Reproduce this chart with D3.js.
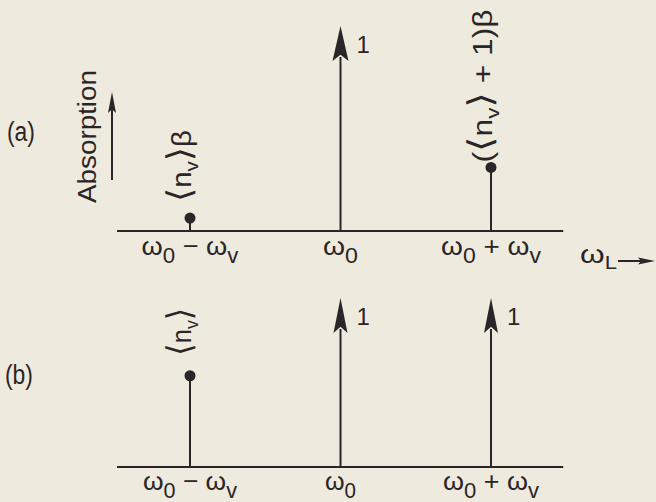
<!DOCTYPE html>
<html><head><meta charset="utf-8">
<script src="https://cdn.jsdelivr.net/npm/d3@7"></script>
<style>
  body { margin: 0; background: #efeade; }
  svg { display: block; }
  text { font-family: "Liberation Sans", Arial, "DejaVu Sans", sans-serif; fill: #2a2526; }
</style>
</head><body>
<svg id="chart" width="656" height="502"></svg>
<script>
// Laser frequency positions, in units of the vibrational frequency ω_v about ω_0
const offsets = [-1, 0, 1];
const tickLabels = ["ω_0 − ω_v", "ω_0", "ω_0 + ω_v"];

// (a) absorption line strengths
const strengthA = [0.063, 1, 0.31];
const kindA = ["dot", "arrow", "dot"];
const labelA = ["⟨n_v⟩β", "1", "(⟨n_v⟩ + 1)β"];

// (b) absorption line strengths
const strengthB = [0.54, 1, 1];
const kindB = ["dot", "arrow", "arrow"];
const labelB = ["⟨n_v⟩", "1", "1"];

const panelNames = ["(a)", "(b)"];
const axisLabel = "ω_L";
const yTitle = "Absorption";

const ink = "#2a2526";
const svg = d3.select("#chart");

const x = d3.scaleLinear().domain([-1, 1]).range([190, 491]);
const axisExtent = [-1.485, 1.48];

// Append a text with "_c" subscripts; optionally stretch it to a given length
function addText(parent, str, o) {
  const g = parent.append("g")
    .attr("transform", `translate(${o.x},${o.y}) rotate(${o.rotate || 0})`);
  const t = g.append("text")
    .attr("font-size", o.size)
    .attr("text-anchor", o.anchor || "start");
  const subSize = o.size * (o.subScale || 0.85);
  const shift = o.subShift || 8;
  const parts = str.split(/_(.)/);
  let pending = 0;
  parts.forEach((p, i) => {
    if (!p) return;
    if (i % 2 === 1) {
      t.append("tspan").attr("font-size", subSize).attr("dy", shift - pending).text(p);
      pending = shift;
    } else {
      // angle brackets drawn a little larger, as in typeset math
      p.split(/([⟨⟩])/).forEach(s => {
        if (!s) return;
        const ts = t.append("tspan").text(s);
        if (pending) { ts.attr("dy", -pending); pending = 0; }
        if (/[⟨⟩]/.test(s)) ts.attr("font-size", o.size * (o.bracketScale || 1))
          .attr("font-family", "DejaVu Sans");
      });
    }
  });
  if (o.fit) {
    const w = t.node().getComputedTextLength();
    t.attr("transform", `scale(${o.fit / w},${o.thick || 1})`);
  }
  return t;
}

function arrowHead(parent, cx, tipY, len, wid, dir) {
  const notch = len * 0.18;
  let pts;
  if (dir === "up") {
    pts = [[cx, tipY], [cx + wid / 2, tipY + len], [cx, tipY + len - notch], [cx - wid / 2, tipY + len]];
  } else {
    pts = [[cx, tipY], [cx - len, tipY - wid / 2], [cx - len + notch, tipY], [cx - len, tipY + wid / 2]];
  }
  parent.append("path").attr("d", d3.line()(pts) + "Z").attr("fill", ink);
}

const panels = [
  { name: panelNames[0], values: strengthA, kinds: kindA, labels: labelA,
    base: 231, top: 26, head: [35, 16], nameX: 7, nameY: 141,
    tickY: 255, tickFit: [97, 35, 100], labelFit: [72, 0, 153], labelGap: [16, 0, 5] },
  { name: panelNames[1], values: strengthB, kinds: kindB, labels: labelB,
    base: 467, top: 298, head: [35, 14], nameX: 5, nameY: 384,
    tickY: 490, tickFit: [94, 31, 96], labelFit: [48, 0, 0], labelGap: [20, 0, 0] }
];

panels.forEach(p => {
  const y = d3.scaleLinear().domain([0, 1]).range([p.base, p.top]);
  const g = svg.append("g");

  // frequency axis line
  g.append("line")
    .attr("x1", x(axisExtent[0])).attr("x2", x(axisExtent[1]))
    .attr("y1", p.base).attr("y2", p.base)
    .attr("stroke", ink).attr("stroke-width", 2.2);

  // tick labels under each line
  offsets.forEach((d, i) => {
    addText(g, tickLabels[i], { x: x(d), y: p.tickY, size: 26, anchor: "middle",
      fit: p.tickFit[i], subScale: 0.82, subShift: 8 });
  });

  // spectral lines
  offsets.forEach((d, i) => {
    const cx = x(d);
    const v = p.values[i];
    if (p.kinds[i] === "arrow") {
      const [len, wid] = p.head;
      g.append("line").attr("x1", cx).attr("x2", cx)
        .attr("y1", p.base).attr("y2", y(v) + len - 4)
        .attr("stroke", ink).attr("stroke-width", 2);
      arrowHead(g, cx, y(v), len, wid, "up");
      addText(g, p.labels[i], { x: cx + 16, y: y(v) + 27, size: 24 });
    } else {
      g.append("line").attr("x1", cx).attr("x2", cx)
        .attr("y1", p.base).attr("y2", y(v))
        .attr("stroke", ink).attr("stroke-width", 2);
      g.append("circle").attr("cx", cx).attr("cy", y(v)).attr("r", 5.5).attr("fill", ink);
      addText(g, p.labels[i], { x: cx + 1, y: y(v) - p.labelGap[i], size: 27, rotate: -90,
        fit: p.labelFit[i], subScale: 0.7, subShift: 7, bracketScale: 1.25 });
    }
  });

  // panel name
  addText(g, p.name, { x: p.nameX, y: p.nameY, size: 28, fit: 28 });
});

// vertical axis title with its arrow
addText(svg, yTitle, { x: 96, y: 136.5, size: 25, rotate: -90, anchor: "middle", fit: 133 });
svg.append("line").attr("x1", 112).attr("x2", 112).attr("y1", 180).attr("y2", 108)
  .attr("stroke", ink).attr("stroke-width", 2);
arrowHead(svg, 112, 92, 21, 8, "up");

// horizontal axis title with its arrow
addText(svg, axisLabel, { x: 580, y: 263, size: 25, fit: 37, subScale: 0.7, subShift: 6 });
svg.append("line").attr("x1", 618).attr("x2", 642).attr("y1", 261).attr("y2", 261)
  .attr("stroke", ink).attr("stroke-width", 2);
arrowHead(svg, 655, 261, 17, 7, "right");
</script>
</body></html>
